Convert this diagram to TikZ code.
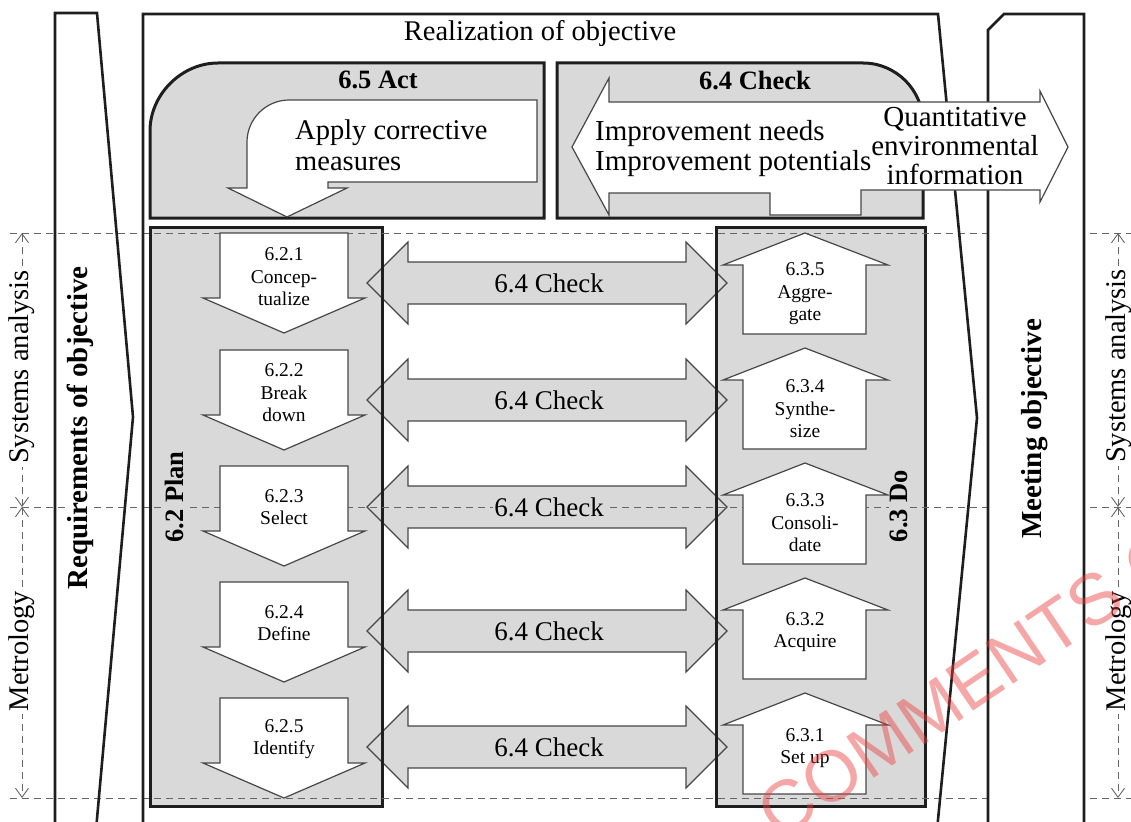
\documentclass[tikz,border=0pt]{standalone}
\usepackage{fontspec}
\setmainfont{Liberation Serif}
\setsansfont{Liberation Sans}
\usetikzlibrary{arrows.meta}
\definecolor{boxgray}{RGB}{217,217,217}
\definecolor{ink}{RGB}{30,30,30}
\definecolor{wmred}{RGB}{235,60,60}

\begin{document}
\begin{tikzpicture}[x=1pt,y=-1pt,
  frame/.style={draw=ink,line width=2.6pt,line join=miter},
  panel/.style={draw=ink,line width=3pt,fill=boxgray,line join=miter},
  warrow/.style={draw=black!72,line width=1.2pt,fill=white,line join=miter},
  garrow/.style={draw=black!72,line width=1.2pt,fill=boxgray,line join=miter},
  gridline/.style={draw=black!60,line width=0.9pt,dash pattern=on 7pt off 5pt},
  dimline/.style={draw=black!60,line width=0.9pt,dash pattern=on 7pt off 5pt,
    {Straight Barb[length=9pt,width=13pt]}-{Straight Barb[length=9pt,width=13pt]}},
  steptext/.style={font=\fontsize{19.5}{22.5}\selectfont,align=center,inner sep=0pt},
  checktext/.style={font=\fontsize{27}{30}\selectfont,inner sep=1pt,fill=boxgray},
  bodytext/.style={font=\fontsize{28.5}{31}\selectfont,inner sep=0pt},
  headtext/.style={font=\bfseries\fontsize{26.5}{30}\selectfont,inner sep=0pt},
  sidetext/.style={font=\bfseries\fontsize{29}{32}\selectfont,inner sep=1pt,rotate=90,fill=white},
  dimtext/.style={font=\fontsize{28.5}{31}\selectfont,inner sep=3pt,rotate=90,fill=white},
  wmtext/.style={font=\sffamily\fontsize{72}{72}\selectfont,text=wmred,opacity=0.45,rotate=34,inner sep=0pt}
]
\useasboundingbox (0,0) rectangle (1131,821);
\clip (0,0) rectangle (1131,821);

% ---------- Plan and Do columns (fill) ----------
\fill[boxgray] (150,227) rectangle (382,806);
\fill[boxgray] (716,227) rectangle (925,806);

% ---------- check arrows between the columns ----------
\foreach \c in {283,400,507,631,747}{
  \draw[garrow] (367,\c) -- (408,\c-41) -- (408,\c-21) -- (686,\c-21) -- (686,\c-41)
    -- (727,\c) -- (686,\c+41) -- (686,\c+21) -- (408,\c+21) -- (408,\c+41) -- cycle;
}

% column borders lie over the arrow tips
\draw[panel,fill=none] (150,227) rectangle (382,806);
\draw[panel,fill=none] (716,227) rectangle (925,806);

% ---------- horizontal level lines ----------
\coordinate (lv1w) at (10,233);  \coordinate (lv1e) at (1131,233);
\coordinate (lv2w) at (10,507);  \coordinate (lv2e) at (1131,507);
\coordinate (lv3w) at (10,798);  \coordinate (lv3e) at (1131,798);
\draw[gridline] (lv1w) -- (lv1e);
\draw[gridline] (lv2w) -- (lv2e);
\draw[gridline] (lv3w) -- (lv3e);

\node[checktext] (chk1) at (549,283) {6.4 Check};
\node[checktext] (chk2) at (549,400) {6.4 Check};
\node[checktext] (chk3) at (549,507) {6.4 Check};
\node[checktext] (chk4) at (549,631) {6.4 Check};
\node[checktext] (chk5) at (549,747) {6.4 Check};

% ---------- Plan steps (downward arrows) ----------
\foreach \t in {233,350,466,582,698}{
  \draw[warrow] (220,\t) -- (348,\t) -- (348,\t+65) -- (365,\t+65) -- (284,\t+100)
    -- (203,\t+65) -- (220,\t+65) -- cycle;
}
\node[steptext] (p1) at (284,277) {6.2.1\\Concep-\\tualize};
\node[steptext] (p2) at (284,393) {6.2.2\\Break\\down};
\node[steptext] (p3) at (284,507) {6.2.3\\Select};
\node[steptext] (p4) at (284,623) {6.2.4\\Define};
\node[steptext] (p5) at (284,739) {6.2.5\\Identify};

% ---------- Do steps (upward arrows) ----------
\foreach \p in {233,348,463,578,693}{
  \draw[warrow] (805,\p) -- (888,\p+32) -- (866,\p+32) -- (866,\p+101) -- (743,\p+101)
    -- (743,\p+32) -- (723,\p+32) -- cycle;
}
\node[steptext] (d5) at (805,294) {6.3.5\\Aggre-\\gate};
\node[steptext] (d4) at (805,409) {6.3.4\\Synthe-\\size};
\node[steptext] (d3) at (805,523) {6.3.3\\Consoli-\\date};
\node[steptext] (d2) at (805,632) {6.3.2\\Acquire};
\node[steptext] (d1) at (805,748) {6.3.1\\Set up};

% ---------- outer frames ----------
\draw[frame,fill=white] (988,830) -- (988,30) -- (1004,14) -- (1084,14) -- (1084,830);
\draw[frame] (55,830) -- (55,13) -- (97,13) -- (133,417) -- (96,830);
\draw[frame] (143,830) -- (143,14) -- (938,14) -- (977,418) -- (937,830);

% ---------- Act and Check panels ----------
\draw[panel] (150,218) -- (150,131) .. controls (150,94.5) and (181.5,63) .. (218,63)
  -- (544,63) -- (544,218) -- cycle;
\draw[panel] (557,218) -- (557,63) -- (863,63) .. controls (896,63) and (923,90) .. (923,123)
  -- (923,218) -- cycle;

% corrective arrow
\draw[warrow] (537,100) -- (537,182) -- (328,182) -- (328,188) -- (347,188) -- (287,217)
  -- (228,188) -- (247,188) -- (247,142) .. controls (247,119) and (266,100) .. (289,100) -- cycle;
% improvement / information arrow
\draw[warrow] (572,147) -- (609,78) -- (609,102) -- (1040,102) -- (1040,91) -- (1068,147)
  -- (1040,202) -- (1040,190) -- (861,190) -- (861,215) -- (770,215) -- (770,193)
  -- (609,193) -- (609,215) -- cycle;

% ---------- texts ----------
\node[bodytext] (realize) at (540,34) {Realization of objective};
\node[headtext] (act) at (378,80) {6.5 Act};
\node[headtext] (check) at (755,80) {6.4 Check};
\node[bodytext,anchor=west,align=left] (apply) at (295,145) {Apply corrective\\measures};
\node[bodytext,anchor=west,align=left,font=\fontsize{29}{30}\selectfont] (improve) at (595,149)
  {Improvement needs\\Improvement potentials};
\node[bodytext,align=center,font=\fontsize{29}{29}\selectfont] (quant) at (955,146)
  {Quantitative\\environmental\\information};

\node[sidetext] (req) at (80,428) {Requirements of objective};
\node[sidetext] (meet) at (1035,429) {Meeting objective};
\node[headtext,rotate=90,fill=boxgray,inner sep=1.5pt] (plan) at (174,497) {6.2 Plan};
\node[headtext,rotate=90,fill=boxgray,inner sep=1.5pt] (do) at (899,506) {6.3 Do};

% ---------- dimension lines ----------
\coordinate (la) at (22,233); \coordinate (lb) at (22,507); \coordinate (lc) at (22,798);
\coordinate (ra) at (1118,233); \coordinate (rb) at (1118,507); \coordinate (rc) at (1118,798);
\draw[dimline] (lb) -- (la);
\draw[dimline] (lb) -- (lc);
\draw[dimline] (rb) -- (ra);
\draw[dimline] (rb) -- (rc);
\node[dimtext] (lsys) at (22,367) {Systems analysis};
\node[dimtext] (lmet) at (22,651) {Metrology};
\node[dimtext] (rsys) at (1119,366) {Systems analysis};
\node[dimtext] (rmet) at (1119,651) {Metrology};

% ---------- stamp ----------
\node[wmtext] (stamp) at (940,704) {COMMENTS};
\node[wmtext,anchor=base west] (stamp2) at (stamp.base east) {\hspace{0.28em}ONLY};
\end{tikzpicture}
\end{document}
